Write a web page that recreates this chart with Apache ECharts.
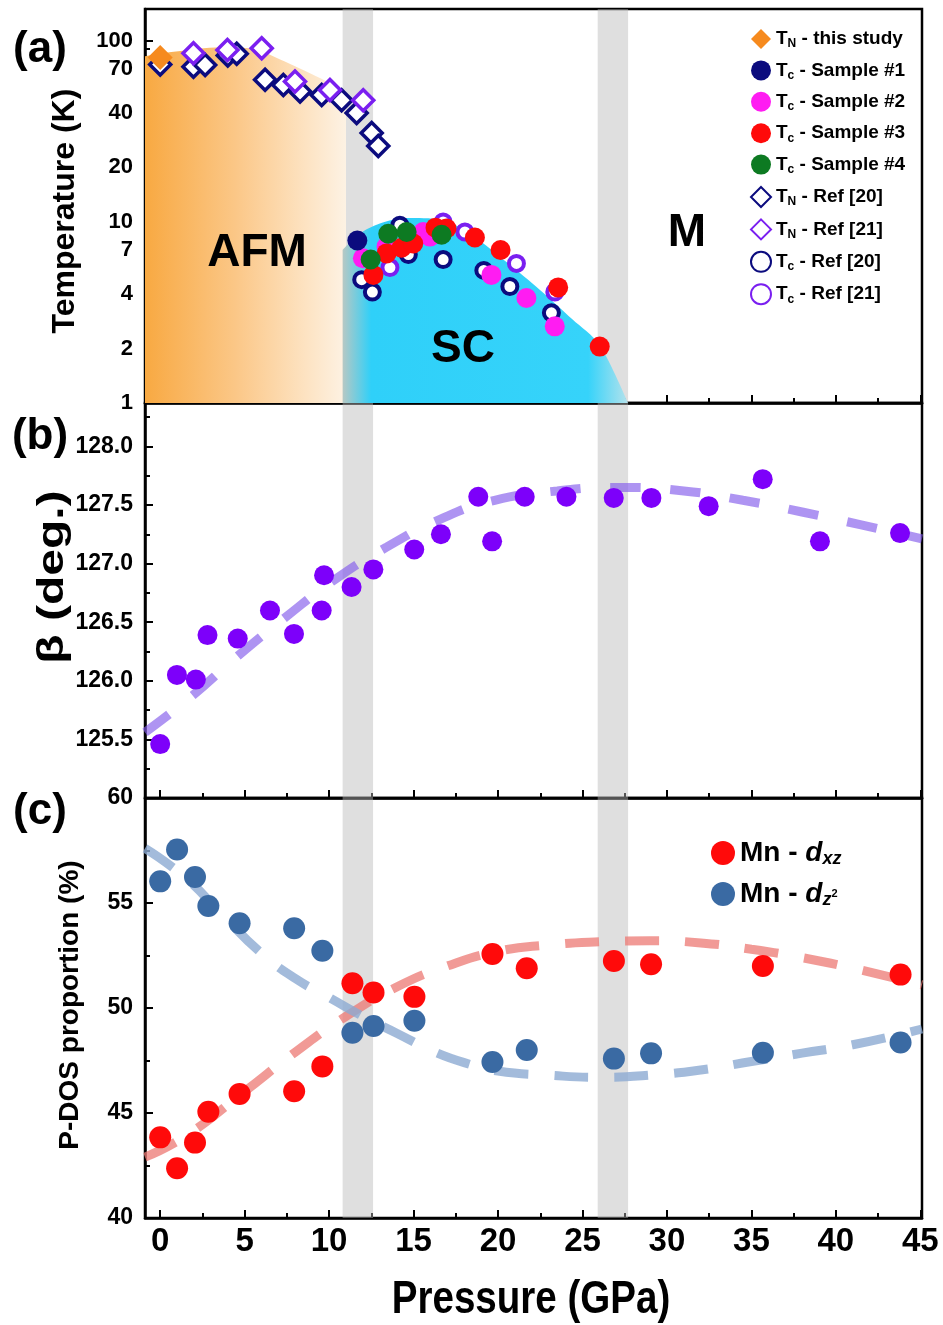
<!DOCTYPE html>
<html>
<head>
<meta charset="utf-8">
<title>Phase diagram, beta angle and P-DOS vs pressure</title>
<script src="https://cdn.jsdelivr.net/npm/echarts@6/dist/echarts.min.js"></script>
<style>
  html, body { margin: 0; padding: 0; background: #fff; }
  #chart { width: 943px; height: 1325px; }
</style>
</head>
<body>
<div id="chart"></div>
<script>
// ---- panel (a): T (K) vs pressure (GPa) ----
const tnThisStudy = [[0, 81]];
const tcSample1 = [[11.67, 7.9]];
const tcSample2 = [[12.0, 6.3], [13.4, 7.3], [15.57, 8.8], [15.97, 8.3], [19.61, 5.1], [21.68, 3.8], [23.36, 2.65]];
const tcSample3 = [[12.62, 5.1], [13.4, 6.7], [14.29, 7.2], [14.98, 7.6], [16.3, 9.3], [16.95, 9.2], [18.63, 8.2], [20.15, 7.0], [23.56, 4.35], [26.02, 2.05]];
const tcSample4 = [[12.46, 6.2], [13.5, 8.6], [14.59, 8.8], [16.66, 8.5]];
const tnRef20 = [[0, 74], [1.97, 72], [2.66, 73.5], [4.0, 83], [4.53, 85], [6.21, 61], [7.29, 57], [8.28, 52.5], [9.56, 50.3], [10.74, 47], [11.63, 40], [12.52, 31], [12.91, 26.3]];
const tnRef21 = [[1.97, 85.5], [3.98, 89], [6.01, 91], [7.98, 59.6], [10.05, 53.6], [12.02, 47]];
const tcRef20 = [[11.93, 4.8], [12.56, 4.1], [14.19, 9.6], [14.69, 6.6], [16.75, 6.2], [19.16, 5.4], [20.7, 4.4], [23.16, 3.15]];
const tcRef21 = [[13.6, 5.6], [16.75, 10.0], [18.04, 8.8], [21.09, 5.9], [23.36, 4.1]];
// phase boundaries (upper edge of the shaded regions)
const afmEdge = [[-0.9, 82], [0.8, 87], [3.7, 92], [5.3, 91], [7.1, 79], [9.05, 65], [11.0, 53]];
const scEdge = [[10.8, 7.0], [11.8, 8.6], [13, 9.8], [14.6, 10.5], [16.6, 10.3], [18.5, 8.4], [20.5, 6.0], [22.5, 4.2], [24.4, 2.9], [26, 2.1], [27.7, 1.0]];

// ---- panel (b): beta angle ----
const betaP = [0, 0.99, 2.11, 2.8, 4.59, 6.5, 7.92, 9.56, 9.7, 11.33, 12.62, 15.04, 16.62, 18.83, 19.65, 21.58, 24.05, 26.85, 29.08, 32.47, 35.67, 39.06, 43.8];
const betaVal = [125.46, 126.05, 126.01, 126.39, 126.36, 126.6, 126.4, 126.6, 126.9, 126.8, 126.95, 127.12, 127.25, 127.57, 127.19, 127.57, 127.57, 127.56, 127.56, 127.49, 127.72, 127.19, 127.26];
const betaFit = [[-0.9, 125.56], [1.8, 125.86], [4.5, 126.2], [7.4, 126.54], [10.3, 126.86], [13.4, 127.14], [16.6, 127.38], [19.8, 127.54], [23.5, 127.62], [27, 127.65], [31, 127.62], [34.5, 127.54], [38, 127.44], [41.5, 127.33], [45.1, 127.21]];

// ---- panel (c): P-DOS proportion ----
const dosP = [0, 1.0, 2.06, 2.85, 4.7, 7.93, 9.6, 11.38, 12.63, 15.05, 19.67, 21.7, 26.86, 29.06, 35.68, 43.83];
const dxz = [43.84, 42.37, 43.59, 45.06, 45.91, 46.04, 47.22, 51.18, 50.74, 50.53, 52.57, 51.89, 52.24, 52.08, 52.0, 51.59];
const dz2 = [56.03, 57.55, 56.24, 54.86, 54.04, 53.8, 52.73, 48.82, 49.14, 49.39, 47.43, 48.0, 47.59, 47.84, 47.87, 48.36];
const dxzFit = [[-0.9, 42.9], [1.5, 43.9], [4.8, 45.9], [8, 47.9], [11, 49.6], [14, 51.0], [17, 52.0], [20, 52.7], [23, 53.0], [26, 53.15], [29, 53.2], [32, 53.1], [35, 52.8], [38, 52.4], [41, 51.9], [45.1, 51.1]];
const dz2Fit = [[-0.9, 57.6], [1.5, 56.2], [3.6, 54.5], [6, 52.6], [8, 51.4], [10, 50.5], [12, 49.6], [14, 48.8], [16, 48.0], [18, 47.4], [20, 47.0], [23, 46.8], [26, 46.7], [29, 46.8], [32, 47.05], [35, 47.45], [38, 47.85], [41, 48.25], [45.1, 49.0]];

// shared
const bands = [[10.8, 12.6], [25.9, 27.7]];
const xTicks = [0, 5, 10, 15, 20, 25, 30, 35, 40, 45];
const xMinorTicks = [2.5, 7.5, 12.5, 17.5, 22.5, 27.5, 32.5, 37.5, 42.5];
const tTicks = [1, 2, 4, 7, 10, 20, 40, 70, 100];
const tMinorTicks = [3, 5, 6, 8, 9, 30, 50, 60, 80, 90];
const legendA = ['TN - this study', 'Tc - Sample #1', 'Tc - Sample #2', 'Tc - Sample #3', 'Tc - Sample #4', 'TN - Ref [20]', 'TN - Ref [21]', 'Tc - Ref [20]', 'Tc - Ref [21]'];
const legendC = ['Mn - dxz', 'Mn - dz2'];

const SANS = '"Liberation Sans", Arial, sans-serif';
const black = { color: '#000', width: 2.5 };

const chart = echarts.init(document.getElementById('chart'), null, { renderer: 'canvas' });

const zip = (xs, ys) => xs.map((x, i) => [x, ys[i]]);

function gridBox(top, height) {
  return { left: 145, width: 777, top: top, height: height, show: true, borderColor: '#000', borderWidth: 2.5, backgroundColor: 'transparent' };
}

function xMain(gi, labels) {
  return {
    type: 'value', gridIndex: gi, min: -0.9, max: 45.1, position: 'bottom',
    axisLine: { show: true, onZero: false, lineStyle: black },
    axisTick: { show: true, inside: true, length: 8, customValues: xTicks, lineStyle: { color: '#000', width: 2 } },
    axisLabel: { show: labels, customValues: xTicks, margin: 7, color: '#000', fontFamily: SANS, fontWeight: 'bold', fontSize: 33 },
    splitLine: { show: false }
  };
}
function xMinor(gi) {
  return {
    type: 'value', gridIndex: gi, min: -0.9, max: 45.1, position: 'bottom',
    axisLine: { show: false, onZero: false },
    axisTick: { show: true, inside: true, length: 5, customValues: xMinorTicks, lineStyle: { color: '#000', width: 2 } },
    axisLabel: { show: false }, splitLine: { show: false }
  };
}
const yLabel = (size) => ({ color: '#000', fontFamily: SANS, fontWeight: 'bold', fontSize: size, margin: 12 });

function band(xi, yi) {
  return {
    type: 'scatter', xAxisIndex: xi, yAxisIndex: yi, data: [], z: 2, silent: true,
    markArea: {
      silent: true,
      itemStyle: { color: 'rgba(185,185,185,0.45)' },
      data: bands.map(b => [{ xAxis: b[0] }, { xAxis: b[1] }])
    }
  };
}
function dots(name, data, symbol, size, fill, stroke, bw, z) {
  return {
    name: name, type: 'scatter', xAxisIndex: 0, yAxisIndex: 0, data: data, z: z,
    symbol: symbol, symbolSize: size,
    itemStyle: { color: fill, borderColor: stroke, borderWidth: bw, opacity: 1 }
  };
}
function dashed(xi, yi, data, color, dash) {
  return {
    type: 'line', xAxisIndex: xi, yAxisIndex: yi, data: data, smooth: true, symbol: 'none', z: 3, silent: true,
    lineStyle: { color: color, width: 9, type: dash, cap: 'butt' }
  };
}
function label(text, x, y, font, extra) {
  return Object.assign({ type: 'text', x: x, y: y, z: 10, silent: true,
    style: { text: text, font: font, fill: '#000', align: 'center', verticalAlign: 'middle' } }, extra || {});
}

const navy = '#0b0b7e', purple = '#7a1ff0', magenta = '#ff1cf2', red = '#ff0a0a', green = '#0d7a22', orange = '#f68a1e';

const option = {
  animation: false,
  backgroundColor: '#fff',
  grid: [gridBox(9, 394), gridBox(403, 395), gridBox(798, 420)],
  xAxis: [xMain(0, false), xMain(1, false), xMain(2, true), xMinor(0), xMinor(1), xMinor(2)],
  yAxis: [
    {
      type: 'log', logBase: 10, gridIndex: 0, min: 1, max: 150, position: 'left',
      axisLine: { show: true, onZero: false, lineStyle: black },
      axisTick: { inside: true, length: 8, customValues: tTicks, lineStyle: { color: '#000', width: 2 } },
      axisLabel: Object.assign({ customValues: tTicks }, yLabel(22)),
      splitLine: { show: false }
    },
    {
      type: 'value', gridIndex: 1, min: 125, max: 128.37, interval: 0.5, position: 'left',
      axisLine: { show: true, onZero: false, lineStyle: black },
      axisTick: { inside: true, length: 8, lineStyle: { color: '#000', width: 2 } },
      minorTick: { show: true, splitNumber: 2, length: 5, lineStyle: { color: '#000', width: 2 } },
      axisLabel: Object.assign({ showMaxLabel: false, formatter: v => (v < 125.2 ? '' : v.toFixed(1)) }, yLabel(23)),
      splitLine: { show: false }
    },
    {
      type: 'value', gridIndex: 2, min: 40, max: 60, interval: 5, position: 'left',
      axisLine: { show: true, onZero: false, lineStyle: black },
      axisTick: { inside: true, length: 8, lineStyle: { color: '#000', width: 2 } },
      minorTick: { show: true, splitNumber: 2, length: 5, lineStyle: { color: '#000', width: 2 } },
      axisLabel: yLabel(23),
      splitLine: { show: false }
    },
    {
      type: 'log', logBase: 10, gridIndex: 0, min: 1, max: 150, position: 'left',
      axisLine: { show: false, onZero: false },
      axisTick: { inside: true, length: 5, customValues: tMinorTicks, lineStyle: { color: '#000', width: 2 } },
      axisLabel: { show: false }, splitLine: { show: false }
    }
  ],
  legend: [
    {
      data: legendA, orient: 'vertical', left: 745, top: 24, itemWidth: 20, itemHeight: 20, itemGap: 10.4,
      selectedMode: false,
      formatter: n => '{m|T}{s|' + n.charAt(1) + '}{m|' + n.slice(2) + '}',
      textStyle: {
        rich: {
          m: { fontFamily: SANS, fontWeight: 'bold', fontSize: 19, color: '#000', lineHeight: 22 },
          s: { fontFamily: SANS, fontWeight: 'bold', fontSize: 12, color: '#000', lineHeight: 12, verticalAlign: 'bottom' }
        }
      }
    },
    {
      data: legendC, orient: 'vertical', left: 706, top: 834, itemWidth: 24, itemHeight: 24, itemGap: 12,
      selectedMode: false,
      formatter: n => n === 'Mn - dxz' ? '{m|Mn - }{i|d}{s|xz}' : '{m|Mn - }{i|d}{s|z}{p|2}',
      textStyle: {
        rich: {
          m: { fontFamily: SANS, fontWeight: 'bold', fontSize: 28, color: '#000', lineHeight: 30 },
          i: { fontFamily: SANS, fontWeight: 'bold', fontStyle: 'italic', fontSize: 28, color: '#000', lineHeight: 30 },
          s: { fontFamily: SANS, fontWeight: 'bold', fontStyle: 'italic', fontSize: 18, color: '#000', lineHeight: 14, verticalAlign: 'bottom' },
          p: { fontFamily: SANS, fontWeight: 'bold', fontSize: 11, color: '#000', lineHeight: 11, verticalAlign: 'middle' }
        }
      }
    }
  ],
  graphic: [
    label('(a)', 40, 50, 'bold 44px ' + SANS),
    label('(b)', 40, 437, 'bold 44px ' + SANS),
    label('(c)', 40, 812, 'bold 44px ' + SANS),
    label('Temperature (K)', 65, 211, 'bold 32px ' + SANS, { rotation: Math.PI / 2 }),
    label('β (deg.)', 53, 577, 'bold 48px ' + SANS, { rotation: Math.PI / 2, scaleY: 0.78 }),
    label('P-DOS proportion (%)', 70, 1005, 'bold 28px ' + SANS, { rotation: Math.PI / 2 }),
    label('Pressure (GPa)', 531, 1300, 'bold 47px ' + SANS, { scaleX: 0.82 }),
    label('AFM', 257, 253, 'bold 46px ' + SANS),
    label('SC', 463, 349, 'bold 46px ' + SANS),
    label('M', 687, 233, 'bold 46px ' + SANS)
  ],
  series: [
    {
      type: 'line', xAxisIndex: 0, yAxisIndex: 0, data: afmEdge, smooth: 0.4, symbol: 'none', z: 1, silent: true,
      lineStyle: { width: 0 },
      areaStyle: {
        origin: 'start', opacity: 1,
        color: { type: 'linear', x: 0, y: 0, x2: 1, y2: 0, colorStops: [
          { offset: 0, color: '#f8a942' }, { offset: 0.45, color: '#fbc787' }, { offset: 0.8, color: '#fde3c2' }, { offset: 1, color: '#fdf2e4' }
        ] }
      }
    },
    {
      type: 'line', xAxisIndex: 0, yAxisIndex: 0, data: scEdge, smooth: 0.3, symbol: 'none', z: 1, silent: true,
      lineStyle: { width: 0 },
      areaStyle: {
        origin: 'start', opacity: 1,
        color: { type: 'linear', x: 0, y: 0, x2: 1, y2: 0, colorStops: [
          { offset: 0, color: '#b6c8c4' }, { offset: 0.1, color: '#2fd0f9' }, { offset: 0.86, color: '#36d3fa' }, { offset: 1, color: '#b4e2ec' }
        ] }
      }
    },
    band(0, 0), band(1, 1), band(2, 2),
    dots('TN - Ref [20]', tnRef20, 'diamond', 21, '#fff', navy, 3.5, 4),
    dots('TN - Ref [21]', tnRef21, 'diamond', 21, '#fff', purple, 3.5, 4),
    dots('Tc - Ref [20]', tcRef20, 'circle', 15, '#fff', navy, 4, 4),
    dots('Tc - Ref [21]', tcRef21, 'circle', 15, '#fff', purple, 4, 4),
    dots('TN - this study', tnThisStudy, 'diamond', 25, orange, orange, 0, 5),
    dots('Tc - Sample #2', tcSample2, 'circle', 20, magenta, magenta, 0, 5),
    dots('Tc - Sample #3', tcSample3, 'circle', 20, red, red, 0, 5),
    dots('Tc - Sample #1', tcSample1, 'circle', 20, navy, navy, 0, 5),
    dots('Tc - Sample #4', tcSample4, 'circle', 20, green, green, 0, 5),
    dashed(1, 1, betaFit, 'rgba(130,90,235,0.65)', [30, 30]),
    {
      type: 'scatter', xAxisIndex: 1, yAxisIndex: 1, data: zip(betaP, betaVal), symbolSize: 20, z: 4,
      itemStyle: { color: '#7d00fa', opacity: 1 }
    },
    dashed(2, 2, dxzFit, 'rgba(236,120,115,0.75)', [34, 26]),
    dashed(2, 2, dz2Fit, 'rgba(140,170,210,0.8)', [34, 26]),
    {
      name: 'Mn - dxz', type: 'scatter', xAxisIndex: 2, yAxisIndex: 2, data: zip(dosP, dxz), symbolSize: 22, z: 4,
      itemStyle: { color: '#ff0a0a', opacity: 1 }
    },
    {
      name: 'Mn - dz2', type: 'scatter', xAxisIndex: 2, yAxisIndex: 2, data: zip(dosP, dz2), symbolSize: 22, z: 4,
      itemStyle: { color: '#3a6aa3', opacity: 1 }
    }
  ]
};

chart.setOption(option);
</script>
</body>
</html>
